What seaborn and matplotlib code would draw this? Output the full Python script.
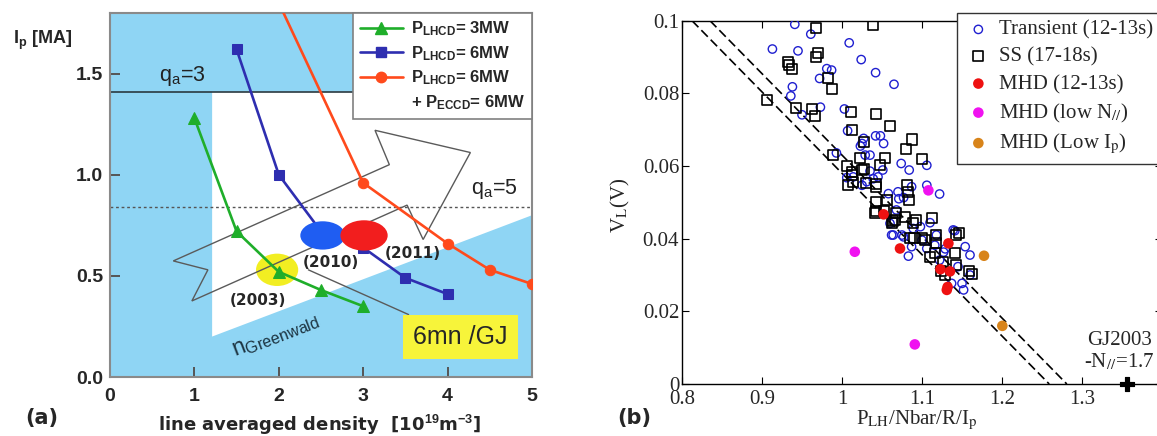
import matplotlib
matplotlib.use("Agg")
import matplotlib.pyplot as plt
from matplotlib.patches import Polygon, Ellipse
from matplotlib.lines import Line2D
from matplotlib.font_manager import FontProperties
import numpy as np
import pandas as pd
import seaborn as sns

# ---------------- Panel (a) data ----------------
lhcd3_density = [1.0, 1.5, 2.0, 2.5, 3.0]
lhcd3_ip = [1.28, 0.72, 0.52, 0.43, 0.35]
lhcd6_density = [1.5, 2.0, 2.5, 3.0, 3.5, 4.0]
lhcd6_ip = [1.62, 1.00, 0.72, 0.64, 0.49, 0.41]
eccd_density = [2.0, 3.0, 4.0, 4.5, 5.0]
eccd_ip = [1.85, 0.96, 0.66, 0.53, 0.46]
series_labels = [r"$\mathbf{P_{LHCD}}$= 3MW",
                 r"$\mathbf{P_{LHCD}}$= 6MW",
                 r"$\mathbf{P_{LHCD}}$= 6MW",
                 r"+ $\mathbf{P_{ECCD}}$= 6MW"]
campaign_labels = ["(2003)", "(2010)", "(2011)"]
campaign_density = [1.98, 2.52, 3.01]
campaign_ip = [0.53, 0.70, 0.70]
qa3_ip = 1.41
qa5_ip = 0.84
greenwald_density = [1.21, 5.0]
greenwald_ip = [0.20, 0.80]
arrow_density = [0.75, 3.31, 3.14, 4.27, 3.71, 3.52, 0.97, 1.16]
arrow_ip = [0.574, 1.05, 1.22, 1.11, 0.68, 0.85, 0.376, 0.53]
xticks_a = [0, 1, 2, 3, 4, 5]
yticks_a = [0.0, 0.5, 1.0, 1.5]

# ---------------- Panel (b) data ----------------
transient_x = [0.941, 0.961, 0.913, 0.945, 1.009, 1.024, 1.042, 1.065, 0.981, 0.987,
               0.972, 0.938, 0.936, 0.973, 0.950, 1.003, 1.007, 1.042, 1.048, 1.027,
               1.025, 1.052, 1.023, 1.029, 1.035, 0.993, 1.074, 1.084, 1.106, 1.051,
               1.035, 1.006, 1.045, 1.014, 1.039, 1.031, 1.025, 1.106, 1.122, 1.058,
               1.070, 1.087, 1.071, 1.077, 1.068, 1.060, 1.064, 1.075, 1.089, 1.098,
               1.118, 1.139, 1.110, 1.141, 1.062, 1.077, 1.100, 1.087, 1.083, 1.116,
               1.106, 1.129, 1.127, 1.122, 1.154, 1.160, 1.145, 1.160, 1.137, 1.150,
               1.152]
transient_y = [0.0990, 0.0963, 0.0922, 0.0917, 0.0939, 0.0893, 0.0857, 0.0825, 0.0868, 0.0864,
               0.0841, 0.0818, 0.0793, 0.0762, 0.0741, 0.0757, 0.0697, 0.0683, 0.0683, 0.0676,
               0.0662, 0.0662, 0.0655, 0.0630, 0.0630, 0.0636, 0.0607, 0.0589, 0.0602, 0.0589,
               0.0586, 0.0568, 0.0570, 0.0570, 0.0565, 0.0557, 0.0547, 0.0547, 0.0523, 0.0524,
               0.0529, 0.0543, 0.0510, 0.0513, 0.0479, 0.0442, 0.0410, 0.0410, 0.0428, 0.0433,
               0.0410, 0.0424, 0.0444, 0.0422, 0.0410, 0.0405, 0.0396, 0.0378, 0.0352, 0.0382,
               0.0373, 0.0372, 0.0363, 0.0341, 0.0378, 0.0355, 0.0323, 0.0300, 0.0277, 0.0277,
               0.0259]
ss_x = [0.968, 1.039, 0.970, 0.968, 0.933, 0.934, 0.937, 0.983, 0.987, 0.906,
        0.943, 0.962, 0.966, 1.011, 1.042, 1.060, 1.013, 1.088, 1.028, 1.080,
        0.989, 1.022, 1.054, 1.100, 1.006, 1.048, 1.027, 1.025, 1.012, 1.012,
        1.014, 1.008, 1.030, 1.043, 1.043, 1.081, 1.083, 1.084, 1.043, 1.056,
        1.042, 1.053, 1.068, 1.066, 1.062, 1.079, 1.092, 1.112, 1.041, 1.064,
        1.089, 1.118, 1.143, 1.146, 1.085, 1.100, 1.090, 1.104, 1.118, 1.116,
        1.141, 1.110, 1.143, 1.126, 1.124, 1.159, 1.162, 1.129]
ss_y = [0.0980, 0.0988, 0.0911, 0.0899, 0.0887, 0.0878, 0.0867, 0.0841, 0.0811, 0.0781,
        0.0761, 0.0758, 0.0738, 0.0749, 0.0742, 0.0710, 0.0699, 0.0673, 0.0667, 0.0646,
        0.0630, 0.0621, 0.0621, 0.0618, 0.0600, 0.0602, 0.0591, 0.0589, 0.0584, 0.0575,
        0.0556, 0.0547, 0.0554, 0.0550, 0.0543, 0.0547, 0.0529, 0.0507, 0.0502, 0.0507,
        0.0475, 0.0475, 0.0470, 0.0451, 0.0442, 0.0460, 0.0451, 0.0456, 0.0471, 0.0449,
        0.0444, 0.0410, 0.0410, 0.0415, 0.0401, 0.0401, 0.0403, 0.0396, 0.0387, 0.0360,
        0.0360, 0.0350, 0.0327, 0.0336, 0.0312, 0.0312, 0.0303, 0.0300]
mhd_x = [1.052, 1.0725, 1.133, 1.123, 1.135, 1.132, 1.131]
mhd_y = [0.0467, 0.0373, 0.0387, 0.0316, 0.0310, 0.0267, 0.0259]
mhd_lown_x = [1.016, 1.108, 1.091]
mhd_lown_y = [0.0364, 0.0533, 0.0109]
mhd_lowip_x = [1.1775, 1.2004]
mhd_lowip_y = [0.0353, 0.0160]
fit_lower_x = [0.8125, 1.259]
fit_lower_y = [0.100, 0.0]
fit_upper_x = [0.835, 1.281]
fit_upper_y = [0.100, 0.0]
gj2003_x = [1.356]
gj2003_y = [0.0]
legend_b = ["Transient (12-13s)", "SS (17-18s)", "MHD (12-13s)",
            r"MHD (low N$_{//}$)", r"MHD (Low I$_{\rm p}$)"]
xticks_b = [0.8, 0.9, 1.0, 1.1, 1.2, 1.3]
xticklabels_b = ["0.8", "0.9", "1", "1.1", "1.2", "1.3"]
yticks_b = [0.0, 0.02, 0.04, 0.06, 0.08, 0.1]
yticklabels_b = ["0", "0.02", "0.04", "0.06", "0.08", "0.1"]

# ---------------- Style ----------------
sns.set_style("white")
plt.rcParams["font.family"] = ["Liberation Sans", "DejaVu Sans"]
plt.rcParams["mathtext.fontset"] = "custom"
plt.rcParams["mathtext.rm"] = "Liberation Sans"
plt.rcParams["mathtext.it"] = "Liberation Sans:italic"
plt.rcParams["mathtext.bf"] = "Liberation Sans:bold"

W, H = 1157, 436
fig = plt.figure(figsize=(W / 100, H / 100), dpi=100)

SKY = "#8fd5f4"
GREEN = "#1fae2a"
BLUE = "#2e2eb0"
ORANGE = "#ff4a1c"

# ================= Panel (a) =================
ax = fig.add_axes([110 / W, 1 - 377 / H, 422 / W, 364 / H])
ax.set_xlim(0, 5)
ax.set_ylim(0, 1.8)
ax.set_facecolor(SKY)

window = Polygon([(greenwald_density[0], qa3_ip), (greenwald_density[1], qa3_ip),
                  (greenwald_density[1], greenwald_ip[1]),
                  (greenwald_density[0], greenwald_ip[0])],
                 closed=True, fc="white", ec="none", zorder=0.5)
ax.add_patch(window)
ax.axhline(qa3_ip, color="#2a3a40", lw=1.2, zorder=1)
ax.axhline(qa5_ip, color="#555555", lw=1.0, ls=(0, (2, 2)), zorder=1)
ax.add_patch(Polygon(list(zip(arrow_density, arrow_ip)), closed=True, fc="none",
                     ec="#5a5a5a", lw=1.0, zorder=2.6))

ell_w = [0.50, 0.53, 0.56]
ell_h = [0.16, 0.14, 0.15]
ell_c = ["#f2ee22", "#1f5df2", "#f21e1e"]
ell_z = [2.0, 4.0, 4.0]
for cx, cy, w, h, c, z in zip(campaign_density, campaign_ip, ell_w, ell_h, ell_c, ell_z):
    ax.add_patch(Ellipse((cx, cy), w, h, fc=c, ec="none", zorder=z))

sns.lineplot(x=lhcd3_density, y=lhcd3_ip, ax=ax, color=GREEN, lw=1.9, marker="^",
             markersize=8, markeredgecolor=GREEN, sort=False, estimator=None, zorder=3)
sns.lineplot(x=lhcd6_density, y=lhcd6_ip, ax=ax, color=BLUE, lw=1.9, marker="s",
             markersize=6.5, markeredgecolor=BLUE, sort=False, estimator=None, zorder=3)
sns.lineplot(x=eccd_density, y=eccd_ip, ax=ax, color=ORANGE, lw=1.9, marker="o",
             markersize=7.5, markeredgecolor=ORANGE, sort=False, estimator=None, zorder=3)

offsets = [(-14, -22), (6, -19.5), (35, -13)]
for lab, cx, cy, off in zip(campaign_labels, campaign_density, campaign_ip, offsets):
    ax.annotate(lab, (cx, cy), xytext=off, textcoords="offset points", ha="center",
                va="center", fontsize=11, fontweight="bold", family="DejaVu Sans", zorder=6)

ax.annotate("6mn /GJ", xy=(2.35, 0.53), xytext=(4.15, 0.20), fontsize=18,
            ha="center", va="center", zorder=6,
            bbox=dict(boxstyle="square,pad=0.4", fc="#f7f43a", ec="none"),
            arrowprops=dict(arrowstyle="-", color="#5a5a5a", lw=1.0, shrinkA=0,
                            shrinkB=0, relpos=(0.19, 1.0)))
ax.text(0.86, 1.49, r"q$_{\rm a}$=3", fontsize=15.5, ha="center", va="center", color="#222222")
ax.text(4.55, 0.93, r"q$_{\rm a}$=5", fontsize=15.5, ha="center", va="center", color="#222222")
ax.text(1.96, 0.21, r"n$_{\rm Greenwald}$", fontsize=16.5, ha="center", va="center",
        rotation=21, color="#1c3340")

handles = [Line2D([], [], color=GREEN, lw=1.9, marker="^", ms=8, mec=GREEN),
           Line2D([], [], color=BLUE, lw=1.9, marker="s", ms=6.5, mec=BLUE),
           Line2D([], [], color=ORANGE, lw=1.9, marker="o", ms=7.5, mec=ORANGE),
           Line2D([], [], color="none", lw=0)]
leg = ax.legend(handles, series_labels, loc="upper right", bbox_to_anchor=(1, 1),
                borderaxespad=0, frameon=True, fancybox=False, framealpha=1,
                edgecolor="#808080",
                prop=FontProperties(family="Liberation Sans", weight="bold", size=12,
                                    math_fontfamily="custom"),
                handlelength=2.6, handletextpad=0.5, labelspacing=0.35, borderpad=0.4)
leg.get_frame().set_linewidth(1.2)
leg.set_zorder(10)

ax.set_xticks(xticks_a)
ax.set_yticks(yticks_a)
ax.set_yticklabels([f"{v:.1f}" for v in yticks_a])
ax.tick_params(direction="in", length=7, width=1.4, color="#555555", labelsize=14,
               left=True, bottom=True, top=False, right=False, pad=5)
for t in ax.get_xticklabels() + ax.get_yticklabels():
    t.set_fontweight("bold")
ax.tick_params(axis="x", pad=8)
for s in ax.spines.values():
    s.set_color("#8a8a8a")
    s.set_linewidth(1.5)
ax.set_xlabel("")
ax.set_ylabel("")

fig.text(13 / W, 1 - 40 / H, r"$\mathbf{I_p}$ [MA]", fontsize=13, fontweight="bold",
         ha="left", va="center")
fig.text(320 / W, 1 - 425 / H, r"line averaged density  [10$^{\mathbf{19}}$m$^{\mathbf{-3}}$]",
         fontsize=13, fontweight="bold", ha="center", va="center", family="DejaVu Sans")
fig.text(25 / W, 1 - 418 / H, "(a)", fontsize=15, fontweight="bold", ha="left",
         va="center", family="DejaVu Sans")

# ================= Panel (b) =================
ax2 = fig.add_axes([682 / W, 1 - 384 / H, 480 / W, 363.3 / H])
ax2.set_xlim(0.8, 1.4)
ax2.set_ylim(0, 0.1)

sns.lineplot(x=fit_lower_x, y=fit_lower_y, ax=ax2, color="black", lw=1.2, sort=False,
             estimator=None, zorder=2)
ax2.lines[-1].set_dashes([5.5, 2.5])
sns.lineplot(x=fit_upper_x, y=fit_upper_y, ax=ax2, color="black", lw=1.2, sort=False,
             estimator=None, zorder=2)
ax2.lines[-1].set_dashes([5.5, 2.5])

sns.scatterplot(x=transient_x, y=transient_y, ax=ax2, marker="o", s=36,
                facecolors="none", edgecolor="#1f1fd0", linewidth=1.0,
                label=legend_b[0], zorder=3)
sns.scatterplot(x=ss_x, y=ss_y, ax=ax2, marker="s", s=52, facecolors="none",
                edgecolor="black", linewidth=1.2, label=legend_b[1], zorder=3)
sns.scatterplot(x=mhd_x, y=mhd_y, ax=ax2, marker="o", s=58, color="#ee1111",
                edgecolor="none", label=legend_b[2], zorder=4)
sns.scatterplot(x=mhd_lown_x, y=mhd_lown_y, ax=ax2, marker="o", s=58, color="#f012f0",
                edgecolor="none", label=legend_b[3], zorder=4)
sns.scatterplot(x=mhd_lowip_x, y=mhd_lowip_y, ax=ax2, marker="o", s=58, color="#d8841a",
                edgecolor="none", label=legend_b[4], zorder=4)
sns.scatterplot(x=gj2003_x, y=gj2003_y, ax=ax2, marker="P", s=110, color="black",
                edgecolor="black", clip_on=False, zorder=6)

ax2.text(1.306, 0.0121, "GJ2003", fontsize=15, family="Liberation Serif",
         ha="left", va="center")
ax2.text(1.3025, 0.0062, r"-N$_{//}$=1.7", fontsize=15, family="Liberation Serif",
         ha="left", va="center", math_fontfamily="stix")

ax2.set_xticks(xticks_b)
ax2.set_xticklabels(xticklabels_b)
ax2.set_yticks(yticks_b)
ax2.set_yticklabels(yticklabels_b)
ax2.tick_params(direction="in", length=5, width=0.8, color="black", labelsize=15,
                top=True, right=True, left=True, bottom=True, pad=2)
ax2.tick_params(axis="x", pad=4)
for t in ax2.get_xticklabels() + ax2.get_yticklabels():
    t.set_fontfamily("Liberation Serif")
for s in ax2.spines.values():
    s.set_color("black")
    s.set_linewidth(1.0)
ax2.set_xlabel("")
ax2.set_ylabel("")

leg2 = ax2.legend(loc="upper left", bbox_to_anchor=(957 / W, 1 - 13 / H),
                  bbox_transform=fig.transFigure, borderaxespad=0, frameon=True,
                  fancybox=False, framealpha=1, edgecolor="#333333",
                  prop=FontProperties(family="Liberation Serif", size=15,
                                      math_fontfamily="stix"),
                  handlelength=1.35, handletextpad=0.3, labelspacing=0.36, borderpad=0.35)
leg2.get_frame().set_linewidth(1.0)
leg2.set_zorder(10)

fig.text(620 / W, 1 - 205 / H, r"V$_{\rm L}$(V)", fontsize=15, family="Liberation Serif",
         rotation=90, ha="center", va="center", math_fontfamily="stix")
fig.text(917 / W, 1 - 420 / H, r"P$_{\rm LH}$/Nbar/R/I$_{\rm p}$", fontsize=15,
         family="Liberation Serif", ha="center", va="center", math_fontfamily="stix")
fig.text(617 / W, 1 - 418 / H, "(b)", fontsize=15, fontweight="bold", ha="left",
         va="center", family="DejaVu Sans")

fig.savefig("out.png", dpi=100)
